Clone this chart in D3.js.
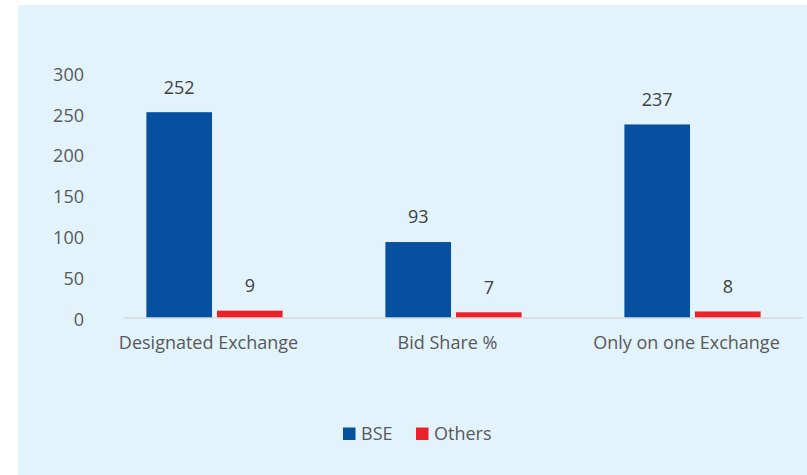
<!DOCTYPE html>
<html>
<head>
<meta charset="utf-8">
<script src="https://cdn.jsdelivr.net/npm/d3@7"></script>
<style>
  body { margin: 0; background: #ffffff; }
  text { font-family: "Open Sans", sans-serif; }
</style>
</head>
<body>
<script>
// chart data
const categories = ["Designated Exchange", "Bid Share %", "Only on one Exchange"];
const seriesNames = ["BSE", "Others"];
const bseValues = [252, 93, 237];
const otherValues = [9, 7, 8];
const yTicks = [0, 50, 100, 150, 200, 250, 300];

const colors = { BSE: "#0750A0", Others: "#EC2028" };

const w = 807;
const h = 475;
const fs = 18;

const rows = categories.map((c, i) => ({
  category: c,
  BSE: bseValues[i],
  Others: otherValues[i]
}));

const svg = d3.select("body").append("svg").attr("width", w).attr("height", h);

// panel background
svg.append("rect")
  .attr("x", 18).attr("y", 5)
  .attr("width", w - 18).attr("height", h - 5)
  .attr("fill", "#E2F3FC");

const x0 = d3.scaleBand().domain(categories).range([95, 812]).paddingInner(0.43).paddingOuter(0.215);
const x1 = d3.scaleBand().domain(seriesNames).range([0, x0.bandwidth()]).paddingInner(0.07);
const y = d3.scaleLinear().domain([0, 300]).range([318, 73]);

// y axis labels
svg.append("g")
  .selectAll("text")
  .data(yTicks)
  .join("text")
  .attr("x", 84)
  .attr("y", d => y(d) + 1.5)
  .attr("dy", "0.35em")
  .attr("text-anchor", "end")
  .attr("font-size", fs)
  .attr("fill", "#595959")
  .text(d => d);

// bars
const groups = svg.append("g")
  .selectAll("g")
  .data(rows)
  .join("g")
  .attr("transform", d => `translate(${x0(d.category)},0)`);

groups.selectAll("rect")
  .data(d => seriesNames.map(s => ({ key: s, value: d[s] })))
  .join("rect")
  .attr("x", d => x1(d.key))
  .attr("y", d => y(d.value))
  .attr("width", x1.bandwidth())
  .attr("height", d => y(0) - y(d.value))
  .attr("fill", d => colors[d.key]);

groups.selectAll("text.val")
  .data(d => seriesNames.map(s => ({ key: s, value: d[s] })))
  .join("text")
  .attr("class", "val")
  .attr("x", d => x1(d.key) + x1.bandwidth() / 2)
  .attr("y", d => y(d.value) - 25)
  .attr("dy", "0.35em")
  .attr("text-anchor", "middle")
  .attr("font-size", fs)
  .attr("fill", "#404040")
  .text(d => d.value);

// baseline
svg.append("line")
  .attr("x1", 124).attr("x2", 803)
  .attr("y1", y(0)).attr("y2", y(0))
  .attr("stroke", "#D9D9D9")
  .attr("stroke-width", 1.5);

// category labels
const xAxis = d3.axisBottom(x0).tickSize(0).tickPadding(16);
svg.append("g")
  .attr("transform", `translate(0,${y(0) + 2})`)
  .call(xAxis)
  .call(g => g.select(".domain").remove())
  .selectAll("text")
  .attr("dx", -6)
  .attr("font-size", fs)
  .attr("font-family", "Open Sans, sans-serif")
  .attr("fill", "#595959");

// legend
const legend = svg.append("g").attr("transform", "translate(343,434)");
const legendX = [0, 73];
seriesNames.forEach((s, i) => {
  const g = legend.append("g").attr("transform", `translate(${legendX[i]},0)`);
  g.append("rect")
    .attr("x", 0).attr("y", -6.5)
    .attr("width", 12.5).attr("height", 12.5)
    .attr("fill", colors[s]);
  g.append("text")
    .attr("x", 18)
    .attr("y", 0)
    .attr("dy", "0.35em")
    .attr("font-size", fs)
    .attr("fill", "#595959")
    .text(s);
});
</script>
</body>
</html>
